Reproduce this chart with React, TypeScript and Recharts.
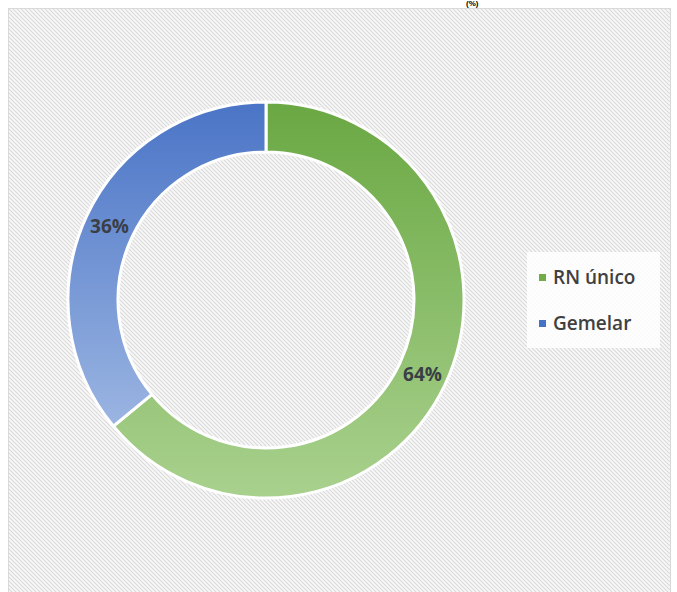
import { PieChart, Pie, Cell, Legend } from "recharts";

const categories = ["RN único", "Gemelar"];
const shares = [64, 36];
const topColors = ["#6aa843", "#4a74c6"];
const bottomColors = ["#a9d18e", "#9bb5e2"];
const legendColors = ["#70ad47", "#4472c4"];

const data = categories.map((name, i) => ({ name, value: shares[i] }));

const RAD = Math.PI / 180;

function renderLabel(props: any) {
  const { cx, cy, midAngle, innerRadius, outerRadius, value } = props;
  const r = (innerRadius + outerRadius) / 2;
  const x = cx + r * Math.cos(-midAngle * RAD);
  const y = cy + r * Math.sin(-midAngle * RAD);
  return (
    <text
      x={x}
      y={y}
      textAnchor="middle"
      dominantBaseline="central"
      fill="#3a3f46"
      fontSize={19}
      fontWeight={700}
      fontFamily="'Open Sans', sans-serif"
    >
      {value}%
    </text>
  );
}

function LegendBox() {
  return (
    <div
      style={{
        background: "rgba(255,255,255,0.85)",
        padding: "12px 8px 12px 12px",
        fontFamily: "'Open Sans', sans-serif",
        fontSize: 19,
        fontWeight: 600,
        color: "#404040",
      }}
    >
      {categories.map((c, i) => (
        <div
          key={c}
          style={{
            display: "flex",
            alignItems: "center",
            height: 26,
            marginBottom: i === 0 ? 20 : 0,
          }}
        >
          <span
            style={{
              display: "inline-block",
              width: 7,
              height: 7,
              background: legendColors[i],
              marginRight: 7,
            }}
          />
          {c}
        </div>
      ))}
    </div>
  );
}

export default function App() {
  return (
    <div
      style={{
        position: "absolute",
        left: 0,
        top: 0,
        width: 677,
        height: 592,
        overflow: "hidden",
        background: "#fff",
      }}
    >
      <div
        style={{
          position: "absolute",
          left: 466,
          top: -1,
          fontFamily: "'Liberation Sans', sans-serif",
          fontWeight: 700,
          fontSize: 8,
          color: "#000",
          lineHeight: "9px",
        }}
      >
        (%)
      </div>
      <svg
        width={664}
        height={600}
        style={{ position: "absolute", left: 8, top: 8 }}
      >
        <defs>
          <pattern id="hatch" width="4" height="4" patternUnits="userSpaceOnUse">
            <rect width="4" height="4" fill="#f8f8f8" />
            <path
              d="M-1,-1 L5,5 M3,-1 L5,1 M-1,3 L1,5"
              stroke="#dadada"
              strokeWidth={1.1}
            />
          </pattern>
        </defs>
        <rect
          x={0.5}
          y={0.5}
          width={662}
          height={600}
          fill="url(#hatch)"
          stroke="#d9d9d9"
        />
      </svg>
      <div style={{ position: "absolute", left: 0, top: 0 }}>
        <PieChart
          width={677}
          height={592}
          margin={{ top: 0, right: 0, bottom: 0, left: 0 }}
        >
          <defs>
            {categories.map((c, i) => (
              <linearGradient key={c} id={`g${i}`} x1="0" y1="0" x2="0" y2="1">
                <stop offset="0%" stopColor={topColors[i]} />
                <stop offset="100%" stopColor={bottomColors[i]} />
              </linearGradient>
            ))}
          </defs>
          <Pie
            data={data}
            dataKey="value"
            nameKey="name"
            cx={266}
            cy={300}
            innerRadius={148}
            outerRadius={198}
            startAngle={90}
            endAngle={-270}
            stroke="#ffffff"
            strokeWidth={3}
            label={renderLabel}
            labelLine={false}
            isAnimationActive={false}
          >
            {data.map((d, i) => (
              <Cell key={d.name} fill={`url(#g${i})`} />
            ))}
          </Pie>
          <Legend
            content={<LegendBox />}
            wrapperStyle={{ left: 527, top: 252, width: 133, height: 96 }}
          />
        </PieChart>
      </div>
    </div>
  );
}
